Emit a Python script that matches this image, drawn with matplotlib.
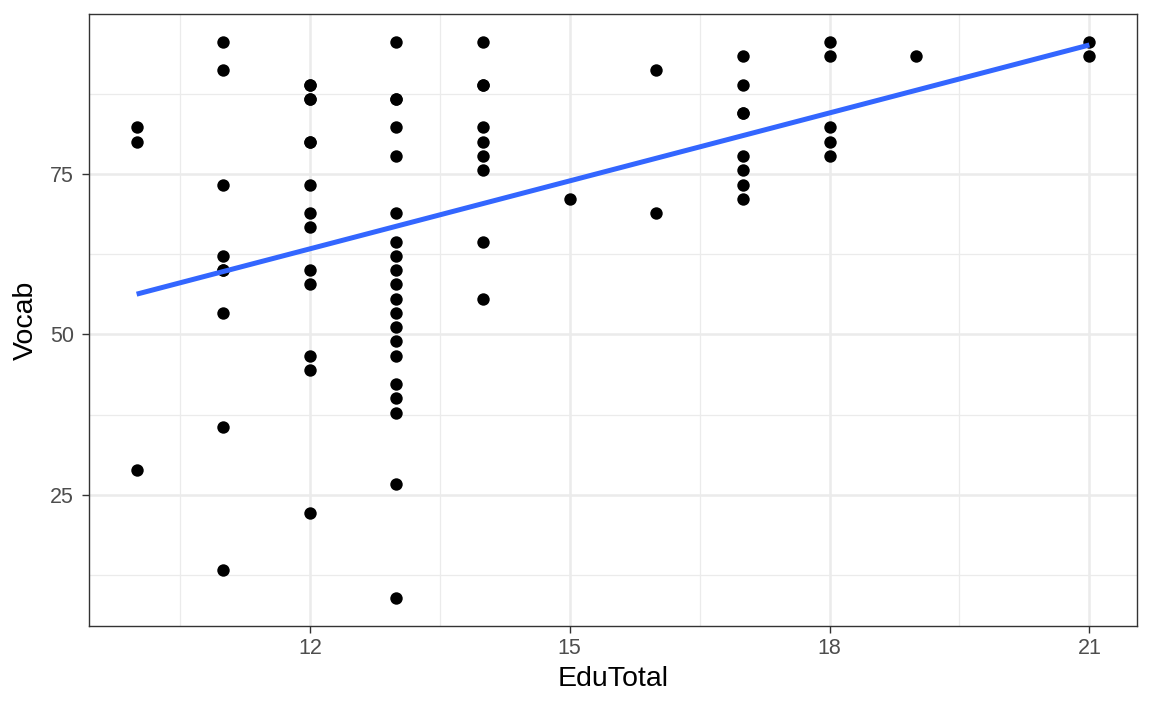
import numpy as np
import matplotlib.pyplot as plt

plt.rcParams['font.family'] = ['Liberation Sans', 'DejaVu Sans']

# EduTotal / Vocab (vocab scores are k/45 * 100)
edu_10 = [10, 10, 10]
voc_10 = [82.22, 80.00, 28.89]
edu_11 = [11] * 9
voc_11 = [95.56, 91.11, 73.33, 62.22, 60.00, 60.00, 53.33, 35.56, 13.33]
edu_12 = [12] * 14
voc_12 = [88.89, 86.67, 86.67, 80.00, 80.00, 73.33, 68.89, 66.67, 60.00,
          57.78, 46.67, 44.44, 22.22, 88.89]
edu_13 = [13] * 20
voc_13 = [95.56, 86.67, 86.67, 82.22, 77.78, 68.89, 64.44, 62.22, 60.00,
          57.78, 55.56, 53.33, 51.11, 48.89, 46.67, 42.22, 40.00, 37.78,
          26.67, 8.89]
edu_14 = [14] * 9
voc_14 = [95.56, 88.89, 88.89, 82.22, 80.00, 77.78, 75.56, 64.44, 55.56]
edu_15 = [15]
voc_15 = [71.11]
edu_16 = [16, 16]
voc_16 = [91.11, 68.89]
edu_17 = [17] * 8
voc_17 = [93.33, 88.89, 84.44, 84.44, 77.78, 75.56, 73.33, 71.11]
edu_18 = [18] * 5
voc_18 = [95.56, 93.33, 82.22, 80.00, 77.78]
edu_19 = [19]
voc_19 = [93.33]
edu_21 = [21, 21]
voc_21 = [95.56, 93.33]

x_ticks = [12, 15, 18, 21]
y_ticks = [25, 50, 75]

edu = np.array(edu_10 + edu_11 + edu_12 + edu_13 + edu_14 + edu_15 + edu_16
               + edu_17 + edu_18 + edu_19 + edu_21, dtype=float)
voc = np.array(voc_10 + voc_11 + voc_12 + voc_13 + voc_14 + voc_15 + voc_16
               + voc_17 + voc_18 + voc_19 + voc_21)

fig = plt.figure(figsize=(11.52, 7.11), dpi=100)
ax = fig.add_axes([89 / 1152, 85 / 711, 1048 / 1152, 612 / 711])

# ggplot-like expansion
xr = edu.max() - edu.min()
yr = voc.max() - voc.min()
ax.set_xlim(edu.min() - 0.05 * xr, edu.max() + 0.05 * xr)
ax.set_ylim(voc.min() - 0.05 * yr, voc.max() + 0.05 * yr)

ax.set_xticks(x_ticks)
ax.set_yticks(y_ticks)
ax.set_xticks([10.5, 13.5, 16.5, 19.5], minor=True)
ax.set_yticks([12.5, 37.5, 62.5, 87.5], minor=True)
ax.grid(which='major', color='#EBEBEB', linewidth=1.8, zorder=0)
ax.grid(which='minor', color='#EBEBEB', linewidth=0.9, zorder=0)
ax.set_axisbelow(True)

ax.scatter(edu, voc, s=80, color='black', linewidths=0, zorder=3)

# linear fit
b, a = np.polyfit(edu, voc, 1)
xs = np.array([edu.min(), edu.max()])
ax.plot(xs, a + b * xs, color='#3366FF', linewidth=3.6, zorder=4,
        solid_capstyle='butt')

for sp in ax.spines.values():
    sp.set_color('#333333')
    sp.set_linewidth(1.0)
ax.tick_params(which='major', length=5, width=1.0, color='#333333',
               labelsize=15.5, labelcolor='#4D4D4D')
ax.tick_params(axis='y', pad=6)
ax.tick_params(axis='x', pad=4)
ax.tick_params(which='minor', length=0)

ax.set_xlabel('EduTotal', fontsize=20.5, labelpad=5)
ax.set_ylabel('Vocab', fontsize=20.5, labelpad=8)

fig.savefig('out.png', dpi=100)
